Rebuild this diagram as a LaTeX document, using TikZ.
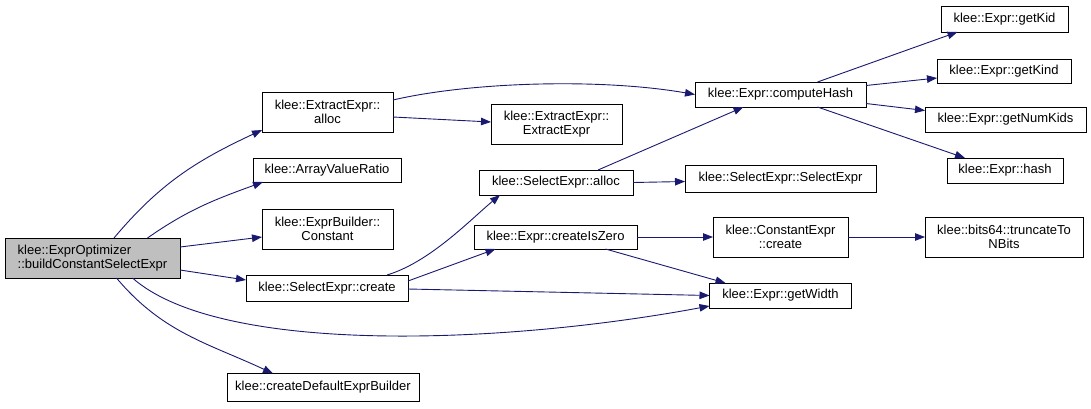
\documentclass[tikz,border=0pt]{standalone}
\usepackage{fontspec}
\setmainfont{Liberation Sans}
\usetikzlibrary{arrows.meta}
\definecolor{edgeblue}{HTML}{191970}
\definecolor{maingray}{HTML}{BFBFBF}
\tikzset{
  fn/.style={draw=black, line width=0.9pt, fill=white, inner sep=0pt, outer sep=0pt,
    align=center, font=\fontsize{13}{14.5}\selectfont},
  callee/.style={draw=edgeblue, line width=0.9pt, -{Triangle[length=10pt,width=7.5pt]}},
}
\begin{document}
\begin{tikzpicture}[x=1pt,y=-1pt]
\useasboundingbox (0,0) rectangle (1091,408);
% nodes
\node[fn, fill=maingray, align=left, minimum width=175pt, minimum height=40pt] (main) at (92.5,258) {klee::ExprOptimizer\\::buildConstantSelectExpr};
\node[fn, minimum width=131pt, minimum height=40pt] (xalloc) at (327.5,112) {klee::ExtractExpr::\\alloc};
\node[fn, minimum width=148pt, minimum height=24pt] (avr) at (327,170) {klee::ArrayValueRatio};
\node[fn, minimum width=131pt, minimum height=40pt] (ebc) at (327.5,229) {klee::ExprBuilder::\\Constant};
\node[fn, minimum width=162pt, minimum height=26pt] (screate) at (327,288) {klee::SelectExpr::create};
\node[fn, minimum width=192pt, minimum height=28pt] (cdeb) at (323,387.5) {klee::createDefaultExprBuilder};
\node[fn, minimum width=131pt, minimum height=40pt] (xx) at (556.5,124) {klee::ExtractExpr::\\ExtractExpr};
\node[fn, minimum width=154pt, minimum height=25pt] (salloc) at (556,182.5) {klee::SelectExpr::alloc};
\node[fn, minimum width=163pt, minimum height=24pt] (ciz) at (555.5,237) {klee::Expr::createIsZero};
\node[fn, minimum width=191pt, minimum height=27pt] (ss) at (780.5,178.5) {klee::SelectExpr::SelectExpr};
\node[fn, minimum width=135pt, minimum height=40pt] (ccreate) at (780.5,237) {klee::ConstantExpr\\::create};
\node[fn, minimum width=142pt, minimum height=25pt] (gw) at (780.5,295.5) {klee::Expr::getWidth};
\node[fn, minimum width=171pt, minimum height=25pt] (ch) at (780.5,94.5) {klee::Expr::computeHash};
\node[fn, minimum width=158pt, minimum height=40pt] (trunc) at (1004,237) {klee::bits64::truncateTo\\NBits};
\node[fn, minimum width=127pt, minimum height=26pt] (gkid) at (1004.5,19) {klee::Expr::getKid};
\node[fn, minimum width=134pt, minimum height=24pt] (gkind) at (1004,71) {klee::Expr::getKind};
\node[fn, minimum width=161pt, minimum height=25pt] (gnk) at (1005.5,119.5) {klee::Expr::getNumKids};
\node[fn, minimum width=116pt, minimum height=25pt] (hash) at (1005,170.5) {klee::Expr::hash};
% edges
\draw[callee] ([xshift=21.5pt]main.north) to[out=50,in=205] ([yshift=2pt]xalloc.south west);
\draw[callee] ([xshift=55pt]main.north) to[out=35,in=200] ([xshift=-64pt]avr.south);
\draw[callee] ([yshift=11pt]main.east) -- ([yshift=-8pt]ebc.west);
\draw[callee] ([yshift=-12pt]main.east) -- ([yshift=8pt]screate.west);
\draw[callee] ([xshift=40pt]main.south) .. controls (220,355) and (500,345) .. ([yshift=2pt]gw.south west);
\draw[callee] ([xshift=24pt]main.south) to[out=-50,in=155] ([xshift=-50pt]cdeb.north);
\draw[callee] ([yshift=12pt]xalloc.east) .. controls (470,82) and (600,78) .. (ch.west);
\draw[callee] ([yshift=-5pt]xalloc.east) -- ([yshift=2pt]xx.west);
\draw[callee] ([xshift=60pt]screate.north) .. controls (430,262) and (470,220) .. ([xshift=-56pt]salloc.south);
\draw[callee] ([yshift=7pt]screate.east) -- ([xshift=-60pt]ciz.south);
\draw[callee] ([yshift=-1pt]screate.east) -- (gw.west);
\draw[callee] ([xshift=42pt]salloc.north) -- ([xshift=-37pt]ch.south);
\draw[callee] (salloc.east) -- ([yshift=-3pt]ss.west);
\draw[callee] (ciz.east) -- (ccreate.west);
\draw[callee] ([xshift=50pt]ciz.south) -- ([xshift=-55pt]gw.north);
\draw[callee] (ccreate.east) -- (trunc.west);
\draw[callee] ([xshift=37pt]ch.north) -- ([xshift=-47pt]gkid.south);
\draw[callee] ([yshift=9pt]ch.east) -- ([yshift=-7pt]gkind.west);
\draw[callee] ([yshift=-9pt]ch.east) -- ([yshift=9pt]gnk.west);
\draw[callee] ([xshift=37pt]ch.south) -- ([xshift=-40pt]hash.north);
\end{tikzpicture}
\end{document}
